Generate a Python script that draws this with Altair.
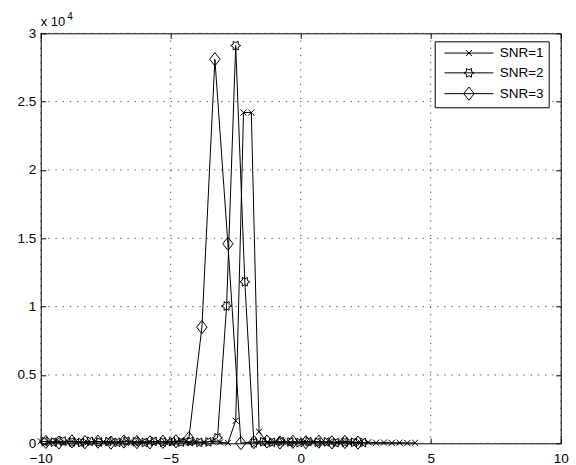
import altair as alt
import pandas as pd

# ---------------- data ----------------
series = ["SNR=1", "SNR=2", "SNR=3"]

x1 = [-10.0, -9.7, -9.4, -9.1, -8.8, -8.5, -8.2, -7.9, -7.6, -7.3, -7.0, -6.7, -6.4,
      -6.1, -5.8, -5.5, -5.2, -4.9, -4.6, -4.3, -4.0, -3.7, -3.4, -3.1, -2.8, -2.5,
      -2.2, -1.9, -1.6, -1.3, -1.0, -0.7, -0.4, -0.1, 0.2, 0.5, 0.8, 1.1, 1.4, 1.7,
      2.0, 2.3, 2.6, 2.9, 3.2, 3.5, 3.8, 4.1, 4.4]
y1 = [150, 90, 180, 60, 140, 110, 70, 160, 100, 130, 80, 170, 60, 120, 90, 150, 70,
      110, 130, 60, 100, 80, 140, 70, 30, 1650, 24200, 24200, 850, 60, 90, 120, 50,
      110, 80, 140, 60, 100, 70, 120, 90, 50, 80, 40, 60, 30, 50, 20, 40]

x2 = [-9.85, -9.5, -9.15, -8.8, -8.45, -8.1, -7.75, -7.4, -7.05, -6.7, -6.35, -6.0,
      -5.65, -5.3, -4.95, -4.6, -4.25, -3.9, -3.55, -3.2, -2.85, -2.5, -2.15, -1.8,
      -1.45, -1.1, -0.75, -0.4, -0.05, 0.3, 0.65, 1.0, 1.35, 1.7, 2.05, 2.4]
y2 = [120, 80, 160, 100, 60, 140, 90, 130, 70, 150, 110, 60, 140, 80, 120, 90, 130,
      70, 100, 400, 10050, 29100, 11820, 40, 110, 70, 130, 90, 60, 120, 80, 100, 50,
      90, 70, 60]

x3 = [-9.8, -9.3, -8.8, -8.3, -7.8, -7.3, -6.8, -6.3, -5.8, -5.3, -4.8, -4.3, -3.8,
      -3.3, -2.8, -2.3, -1.8, -1.3, -0.8, -0.3, 0.2, 0.7, 1.2, 1.7, 2.2]
y3 = [100, 60, 140, 80, 120, 50, 130, 90, 70, 110, 150, 370, 8500, 28100, 14600, 20,
      90, 130, 60, 110, 80, 120, 70, 100, 50]

x_ticks = [-10, -5, 0, 5, 10]
y_ticks = [0, 5000, 10000, 15000, 20000, 25000, 30000]
exponent_text = ["x 10", "4"]

rows = []
for name, xs, ys in zip(series, [x1, x2, x3], [y1, y2, y3]):
    for a, b in zip(xs, ys):
        rows.append({"x": a, "y": b, "s": name})
df = pd.DataFrame(rows)

# ---------------- styles ----------------
FONT = "Liberation Sans"
W, H = 520, 410
TICK_FS = 13.5

# marker paths (unit box -1..1 scaled by sqrt(size)/2)
cross_p = "M-0.55,-0.55L0.55,0.55M-0.55,0.55L0.55,-0.55"
hexa_p = ("M0.91,0L0.455,0.263L0.455,0.788L0,0.525L-0.455,0.788L-0.455,0.263"
          "L-0.91,0L-0.455,-0.263L-0.455,-0.788L0,-0.525L0.455,-0.788L0.455,-0.263Z")
diam_p = "M-0.95,0L0,-1.2L0.95,0L0,1.2Z"
marker_paths = [cross_p, hexa_p, diam_p]
seg = "M-4.45,0L4.45,0"
legend_paths = [seg + p for p in marker_paths]

xscale = alt.Scale(domain=[-10, 10], nice=False, zero=False)
yscale = alt.Scale(domain=[0, 30000], nice=False, zero=False)

# grid lines
grid_x = alt.Chart(pd.DataFrame({"gx": x_ticks})).mark_rule(
    color="#444", strokeWidth=1, strokeDash=[1.2, 6]
).encode(
    x=alt.X("gx:Q", scale=xscale,
            axis=alt.Axis(orient="top", values=x_ticks, labels=False, domain=False,
                          grid=False, ticks=True, tickSize=5, offset=-5,
                          tickColor="black", title=None))
)
grid_y = alt.Chart(pd.DataFrame({"gy": y_ticks})).mark_rule(
    color="#444", strokeWidth=1, strokeDash=[1.2, 6]
).encode(
    y=alt.Y("gy:Q", scale=yscale,
            axis=alt.Axis(orient="right", values=y_ticks, labels=False, domain=False,
                          grid=False, ticks=True, tickSize=5, offset=-5,
                          tickColor="black", title=None))
)

lines = alt.Chart(df).mark_line(color="black", strokeWidth=1).encode(
    x=alt.X("x:Q", scale=xscale,
            axis=alt.Axis(orient="bottom", values=x_ticks, domain=False, grid=False,
                          tickSize=5, offset=-5, tickColor="black", labelPadding=8,
                          labelFlush=False, labelFont=FONT, labelFontSize=TICK_FS,
                          labelColor="black", title=None)),
    y=alt.Y("y:Q", scale=yscale,
            axis=alt.Axis(orient="left", values=y_ticks, domain=False, grid=False,
                          tickSize=5, offset=-5, tickColor="black", labelPadding=5,
                          labelFont=FONT, labelFontSize=TICK_FS, labelColor="black",
                          labelExpr="'' + datum.value / 10000", title=None)),
    detail="s:N",
    order="x:Q",
)

points = alt.Chart(df).mark_point(
    filled=False, stroke="black", strokeWidth=1, size=121, opacity=1
).encode(
    x=alt.X("x:Q", scale=xscale, axis=None),
    y=alt.Y("y:Q", scale=yscale, axis=None),
    shape=alt.Shape("s:N", scale=alt.Scale(domain=series, range=marker_paths),
                    legend=None),
)

legend_layer = alt.Chart(df).transform_filter("datum.y < -1").mark_point(
    filled=False, stroke="black", strokeWidth=1, size=121, opacity=1
).encode(
    x=alt.X("x:Q", scale=xscale, axis=None),
    y=alt.Y("y:Q", scale=yscale, axis=None),
    shape=alt.Shape(
        "s:N", scale=alt.Scale(domain=series, range=legend_paths),
        legend=alt.Legend(
            title=None, orient="none", legendX=394, legendY=8,
            padding=5, symbolOffset=22.5, labelOffset=24, rowPadding=4.8,
            symbolSize=121, symbolStrokeColor="black", symbolFillColor="transparent",
            symbolStrokeWidth=1, labelFont=FONT, labelFontSize=13.5, labelColor="black",
            labelExpr="datum.label + '\u00a0'",
            strokeColor="black", fillColor="white",
        ),
    ),
)

exp_main = alt.Chart(pd.DataFrame({"t": [exponent_text[0]]})).mark_text(
    align="left", baseline="alphabetic", font=FONT, fontSize=13, color="black"
).encode(x=alt.value(0), y=alt.value(-7), text="t:N")
exp_sup = alt.Chart(pd.DataFrame({"t": [exponent_text[1]]})).mark_text(
    align="left", baseline="alphabetic", font=FONT, fontSize=10, color="black"
).encode(x=alt.value(26.5), y=alt.value(-13), text="t:N")

chart = alt.layer(grid_x, grid_y, lines, points, legend_layer, exp_main, exp_sup).resolve_scale(
    shape="independent"
).resolve_axis(
    x="independent", y="independent"
).properties(
    width=W, height=H,
    padding={"left": 40.7, "top": 33.3, "right": 15.3, "bottom": 21.7},
    autosize=alt.AutoSizeParams(type="none"),
    background="white",
).configure_view(
    stroke="black", strokeWidth=1
)

chart.save("out.html", embed_options={"renderer": "svg", "actions": False})
